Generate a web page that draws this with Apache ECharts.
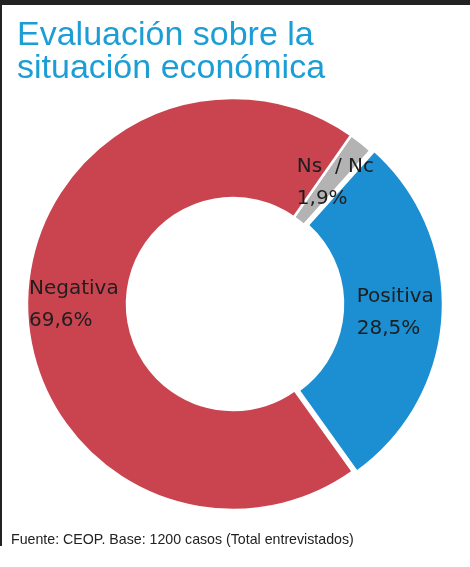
<!DOCTYPE html>
<html>
<head>
<meta charset="utf-8">
<script src="https://cdn.jsdelivr.net/npm/echarts@6/dist/echarts.min.js"></script>
<style>
	html, body { margin:0; padding:0; background:#fff; }
	#chart { width:470px; height:567px; }
</style>
</head>
<body>
<div id="chart"></div>
<script>
// chart data
var categories = ['Ns  / Nc', 'Positiva', 'Negativa'];
var values = [1.9, 28.5, 69.6];
var colors = ['#b3b3b3', '#1b8fd2', '#c9444f'];
var exploded = [false, true, false];

var titleText = 'Evaluación sobre la\nsituación económica';
var sourceText = 'Fuente: CEOP. Base: 1200 casos (Total entrevistados)';

var labelFont = '20px "DejaVu Sans"';
var labelShift = [[4, 3], [-2, 0], [0, 0]];	//small nudges of the label boxes

function fmt(v){ return String(v).replace('.', ','); }

// width of the widest line, so both lines can start at the same x
var ctx = document.createElement('canvas').getContext('2d');
ctx.font = labelFont;
function boxWidth(name, val){
	return Math.ceil(Math.max(ctx.measureText(name).width, ctx.measureText(fmt(val) + '%').width));
}

var pieData = [];
for(var i=0; i<categories.length; i++){
	var w = boxWidth(categories[i], values[i]);
	pieData.push({
		name: categories[i], value: values[i], selected: exploded[i],
		itemStyle: { color: colors[i] },
		label: { offset: labelShift[i],
			rich: { t: { width: w, align: 'left', fontFamily: 'DejaVu Sans', fontSize: 20,
			lineHeight: 32, color: '#1e1e1e' } } }
	});
}

var myChart = echarts.init(document.getElementById('chart'), null, { renderer: 'canvas' });
myChart.setOption({
	animation: false,
	title: {
		text: titleText, left: 12, top: 14,
		textStyle: { fontFamily: 'Liberation Sans', fontSize: 34, fontWeight: 'normal',
			color: '#1b9dd5', lineHeight: 33 }
	},
	graphic: [
		{ type: 'rect', shape: { x: 0, y: 0, width: 470, height: 5 }, style: { fill: '#222' } },
		{ type: 'rect', shape: { x: 0, y: 0, width: 2, height: 546 }, style: { fill: '#222' } },
		{ type: 'text', left: 11, top: 533,
			style: { text: sourceText, font: '14.2px "Liberation Sans"', fill: '#222' } }
	],
	series: [{
		type: 'pie',
		center: [233, 304],
		radius: [106, 206],
		startAngle: 55,
		clockwise: true,
		selectedMode: 'multiple',
		selectedOffset: 4,
		avoidLabelOverlap: false,
		itemStyle: { borderColor: '#fff', borderWidth: 2.5 },
		label: {
			show: true, position: 'inside',
			formatter: function(p){ return '{t|' + p.name + '}\n{t|' + fmt(p.value) + '%}'; }
		},
		labelLine: { show: false },
		emphasis: { disabled: true },
		data: pieData
	}]
});
</script>
</body>
</html>
